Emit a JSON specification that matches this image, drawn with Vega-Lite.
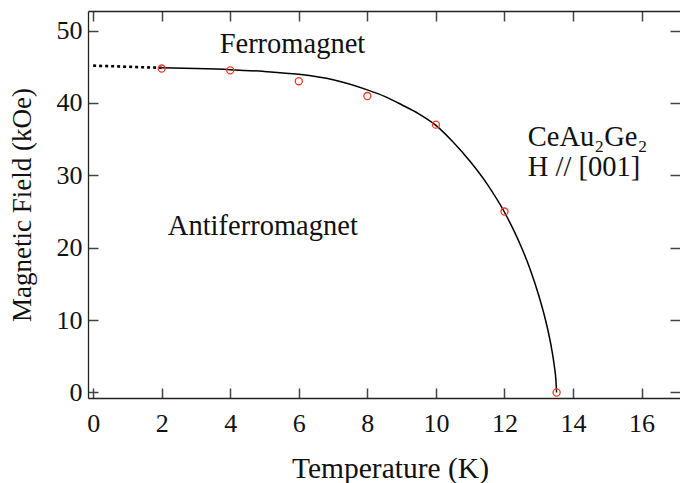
{
  "$schema": "https://vega.github.io/schema/vega-lite/v6.json",
  "width": 592,
  "height": 387,
  "autosize": {"type": "none"},
  "padding": {"left": 88, "top": 11, "right": 0, "bottom": 85},
  "background": "white",
  "config": {
    "view": {"stroke": null},
    "font": "Liberation Serif",
    "axis": {
      "domainColor": "#222",
      "domainWidth": 1.3,
      "tickColor": "#444",
      "tickWidth": 1.5,
      "tickSize": -10,
      "grid": false,
      "labelFont": "Liberation Serif",
      "labelFontSize": 26,
      "labelColor": "#111",
      "titleFont": "Liberation Serif",
      "titleFontSize": 27,
      "titleFontWeight": "normal",
      "titleColor": "#111",
      "labelFlush": false,
      "labelOverlap": false
    }
  },
  "datasets": {
    "curve": [
      {"T": 2, "H": 44.85}, {"T": 3, "H": 44.75}, {"T": 4, "H": 44.6}, {"T": 5, "H": 44.35},
      {"T": 6, "H": 43.95}, {"T": 7, "H": 43.2}, {"T": 8, "H": 41.8}, {"T": 8.5, "H": 40.9},
      {"T": 9, "H": 39.75}, {"T": 9.5, "H": 38.5}, {"T": 10, "H": 36.9}, {"T": 10.5, "H": 34.6},
      {"T": 11, "H": 31.9}, {"T": 11.5, "H": 28.75}, {"T": 12, "H": 24.9}, {"T": 12.25, "H": 22.6},
      {"T": 12.5, "H": 20.0}, {"T": 12.75, "H": 17.0}, {"T": 13, "H": 13.4}, {"T": 13.2, "H": 9.95},
      {"T": 13.35, "H": 6.7}, {"T": 13.45, "H": 3.8}, {"T": 13.5, "H": 1.7}, {"T": 13.52, "H": 0}
    ],
    "dotted": [{"T": 0, "H": 45.15}, {"T": 2, "H": 44.85}],
    "points": [
      {"T": 2, "H": 44.75}, {"T": 4, "H": 44.5}, {"T": 6, "H": 43.0}, {"T": 8, "H": 40.95},
      {"T": 10, "H": 37.0}, {"T": 12, "H": 25.0}, {"T": 13.52, "H": 0}
    ],
    "labels": [
      {"T": 3.69, "H": 46.95, "text": "Ferromagnet"},
      {"T": 2.18, "H": 21.7, "text": "Antiferromagnet"},
      {"T": 12.68, "H": 34.05, "text": "CeAu₂Ge₂"},
      {"T": 12.68, "H": 29.9, "text": "H // [001]"}
    ]
  },
  "resolve": {"axis": {"x": "independent", "y": "independent"}},
  "layer": [
    {
      "data": {"name": "curve"},
      "mark": {"type": "line", "color": "black", "strokeWidth": 1.5, "interpolate": "monotone", "clip": true},
      "encoding": {
        "x": {"field": "T", "type": "quantitative",
              "scale": {"domain": [-0.15, 17.12], "nice": false, "zero": false},
              "axis": {"orient": "bottom", "title": "Temperature (K)", "values": [0, 2, 4, 6, 8, 10, 12, 14, 16], "labelPadding": 22, "titlePadding": 18, "titleFontSize": 29.5, "titleX": 302, "titleAnchor": "start", "titleAlign": "center"}},
        "y": {"field": "H", "type": "quantitative",
              "scale": {"domain": [-0.76, 52.7], "nice": false, "zero": false},
              "axis": {"orient": "left", "title": "Magnetic Field (kOe)", "values": [0, 10, 20, 30, 40, 50], "labelPadding": 16, "titlePadding": 20}}
      }
    },
    {
      "data": {"name": "dotted"},
      "mark": {"type": "line", "color": "black", "strokeWidth": 2.6, "strokeDash": [3, 3]},
      "encoding": {
        "x": {"field": "T", "type": "quantitative",
              "axis": {"orient": "top", "title": null, "labels": false, "values": [0, 2, 4, 6, 8, 10, 12, 14, 16]}},
        "y": {"field": "H", "type": "quantitative",
              "axis": {"orient": "right", "title": null, "labels": false, "domain": false, "values": [0, 10, 20, 30, 40, 50]}}
      }
    },
    {
      "data": {"name": "points"},
      "mark": {"type": "point", "shape": "circle", "filled": false, "color": "#f03a26", "size": 50, "strokeWidth": 1.3, "opacity": 1},
      "encoding": {
        "x": {"field": "T", "type": "quantitative", "axis": null},
        "y": {"field": "H", "type": "quantitative", "axis": null}
      }
    },
    {
      "data": {"name": "labels"},
      "mark": {"type": "text", "align": "left", "baseline": "alphabetic", "fontSize": 28.5, "font": "Liberation Serif", "color": "#111"},
      "encoding": {
        "x": {"field": "T", "type": "quantitative", "axis": null},
        "y": {"field": "H", "type": "quantitative", "axis": null},
        "text": {"field": "text"}
      }
    }
  ]
}
